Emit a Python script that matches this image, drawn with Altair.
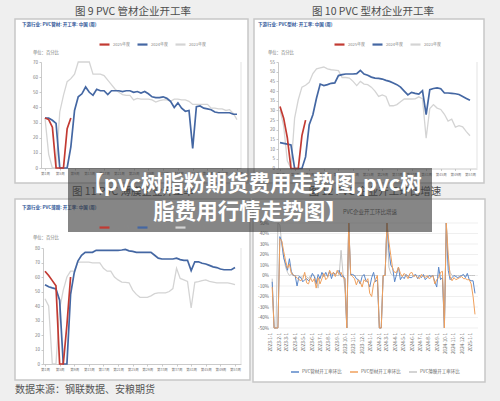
import altair as alt
import pandas as pd

FONT = "Noto Sans CJK SC"

# ---------------- texts ----------------
panel_titles = ["图 9   PVC 管材企业开工率", "图 10   PVC 型材企业开工率",
                "图 11   PVC 薄膜企业开工率", "图 12   PVC 企业开工环比增速"]
sub_titles = ["下游行业: PVC管材: 开工率: 中国 (周)", "下游行业: PVC型材: 开工率: 中国 (周)",
              "下游行业: PVC薄膜: 开工率: 中国 (周)"]
unit_label = "单位：百分比"
br_title = "PVC企业开工环比增速"
overlay_lines = ["【pvc树脂粉期货费用走势图,pvc树", "脂费用行情走势图】"]
source_note = "数据来源：钢联数据、安粮期货"

# ---------------- weekly panels ----------------
series_names = ["2025年度", "2024年度", "2023年度"]
series_colors = ["#c23a32", "#4467a3", "#d4d4d4"]
week_ticks = [1, 5, 9, 13, 17, 21, 25, 29, 33, 37, 41, 45, 49, 53]

pipe_y_ticks = [0, 10, 20, 30, 40, 50, 60, 70]
pipe_2025 = [33, 32, 27, 0, 0, 0, 26, 33]
pipe_2024 = [33, 33, 31.5, 29.5, 0, 0, 0, 14, 38, 47, 49, 53.5, 50, 48, 52, 51, 51, 48.5, 51, 51,
             51, 50.5, 51, 51, 50, 50.5, 49.5, 50.5, 49, 47, 46.5, 46.5, 47, 46, 44, 40, 43, 39.5,
             37.5, 38, 13, 40.5, 41, 39.5, 39, 38.5, 37, 36.5, 36.5, 36.5, 36.5, 35.5, 35.5]
pipe_2023 = [33, 9, 0, 0, 37, 48, 57, 59, 62, 70, 70, 70, 70, 62, 62, 62, 61, 58, 55, 52,
             50, 48.5, 48, 48, 45, 46, 45.5, 45.5, 45.5, 45, 43.5, 44.5, 45, 45, 44, 45.5, 45.5, 45,
             45, 44, 42, 42, 42, 42, 42, 39.5, 39.5, 39, 39, 38, 38.5, 36, 32]

prof_y_ticks = [0, 5, 10, 15, 20, 25, 30, 35, 40, 45, 50, 55]
prof_2025 = [32, 26, 16, 0, 0, 0, 17, 25]
prof_2024 = [13.4, 13, 12.6, 12.2, 0, 0, 0, 6, 22.6, 27.8, 36.4, 43.6, 42.8, 43.3, 44, 44.2, 48,
             48.5, 48.8, 48.8, 48.8, 49, 50.7, 48.8, 48.2, 47.2, 46.7, 46.5, 46.2, 45.5, 45, 44.2,
             43.3, 42, 40, 38, 39.3, 38.8, 38.4, 40.2, 27.8, 40.7, 41.3, 41.6, 41.2, 39, 39, 38.8,
             38.6, 38.2, 37.2, 36.2, 35.2]
prof_2023 = [30.3, 22, 4, 0, 26, 35.5, 42, 43, 44.5, 49, 51.5, 52, 52.4, 51.5, 51, 50.8, 50.5,
             47, 47, 46.7, 45, 42.8, 45, 43.6, 43.3, 42, 40, 37.2, 38, 37.2, 32.4, 32.4, 33, 34.5,
             35.9, 35.9, 35.9, 36, 37, 36, 15.7, 31, 33, 31.2, 30.5, 28, 24.5, 25.5, 21.4, 22.1,
             21.5, 19, 16.9]

film_y_ticks = [0, 10, 20, 30, 40, 50, 60, 70, 80]
film_2025 = [64, 61, 57.5, 54, 0, 0, 27, 60]
film_2024 = [54.7, 53.3, 52.5, 51.8, 44, 0, 0, 48, 63, 71, 75, 77, 77, 77, 78.4, 78.4, 78.4,
             78.4, 78.4, 78.4, 78.4, 78.6, 79, 78, 77.7, 77, 77, 77, 77, 77, 75, 73, 72.4, 72.4,
             72.4, 72.4, 73, 72, 71.5, 71.5, 64.4, 70.5, 70.5, 69.5, 69, 68, 67, 66.5, 65.5, 65,
             65, 65, 66.5]
film_2023 = [45, 40, 0, 0, 38, 51, 60, 64, 64, 70.3, 70.3, 70.3, 70.3, 69.7, 69.7, 69.7, 66, 64,
             64, 60, 58, 56.5, 56.3, 56, 51, 48, 46, 46, 46, 47, 48.5, 49, 49, 49, 50, 52, 66, 59,
             58, 57, 38.6, 56.3, 56.8, 57.5, 58, 57, 56.5, 56, 56, 56, 56, 55.5, 54.7]

# ---------------- MoM growth panel ----------------
br_series = ["PVC管材开工率环比", "PVC型材开工率环比", "PVC薄膜开工率环比"]
br_colors = ["#5a87c9", "#f0a05c", "#c6c6c6"]
br_y_ticks = [-50, -40, -30, -20, -10, 0, 10, 20, 30, 40, 50]
br_month_labels = ["2023-1-1", "2023-2-1", "2023-3-1", "2023-4-1", "2023-5-1", "2023-6-1",
                   "2023-7-1", "2023-8-1", "2023-9-1", "2023-10-1", "2023-11-1", "2023-12-1",
                   "2024-1-1", "2024-2-1", "2024-3-1", "2024-4-1", "2024-5-1", "2024-6-1",
                   "2024-7-1", "2024-8-1", "2024-9-1", "2024-10-1", "2024-11-1", "2024-12-1",
                   "2025-1-1"]
br_first_week = "2023-01-06"
br_pipe = [-6, -50, -50, -50, 37, 32, 17, 11, 5, 16, 4, 0, 0, -10, -1, -2, -6, -4, -3, -5,
           -3, 2, -1, -8, 1, -3, 3, -1, 3, -1, 4, -3, 3, 1, 3, 5, -1, 0, -3, -50,
           50, 1, 1, 0, -3, -4, -8, -1, 1, -5, -6, -11, -2, 3, -6, -4, -50, -50, 0, 0,
           50, 24, 10, 7, -6, 1, 8, -4, -1, -3, 1, -1, -2, -2, 0, 1, -3, 0, -2, 1,
           -4, -2, 0, -1, 0, -6, -11, 8, -4, -2, -50, 50, 5, -4, -2, 0, -1, -2, -1, 0,
           1, -2, 2, -4, -5, -5, -17]
br_prof = [-11, -50, -50, -50, 35, 33, 23, 14, 7, 11, 2, 1, -1, -2, -4, -5, -3, 3, -7, -8,
           -2, -6, -3, -12, -2, -8, -3, 2, -4, -2, 5, 1, 3, -1, 5, 1, 3, -2, -3, -50,
           50, 1, -1, -3, -9, -4, -6, -11, -4, -6, -3, -17, -20, -8, -4, 0, -50, -50, 0, 0,
           50, 32, 19, 6, 3, 3, 8, 2, -1, 2, 0, -3, 2, 3, -1, 0, -2, -3, 1, -1,
           -2, 0, -3, -2, 0, -8, -4, -2, 3, 4, -50, 50, 20, -1, -5, -2, -4, -3, -2, -1,
           -3, -3, -4, -4, -8, -20, -37]
br_film = [-3, -50, -50, 50, 48, 30, 18, 8, 3, 0, 1, 0, 0, 0, 0, -2, 0, 0, -1, -3,
           0, 0, 0, -4, -12, -1, 0, 0, 0, 0, 0, 0, 0, 0, 0, 0, 24, 2, -12, -50,
           50, 0, 0, 0, 0, 0, 0, 0, 0, 0, 0, 0, 0, 0, 0, 0, -50, -50, 0, 0,
           50, 8, 2, 0, 0, 0, 0, 0, 0, 0, 0, 0, 0, 0, 0, 0, 0, 0, 0, 0,
           0, -1, 0, 0, 0, 0, 0, 0, 0, 0, -50, 50, 11, 3, 0, 0, 0, 0, 0, 0,
           0, 0, 0, 0, 0, 0, 0]

H = 401
PAGE = "#efefef"
one = pd.DataFrame({"k": [0]})


def label(txt, x, y, size, color, align="left", weight="normal"):
    return alt.Chart(one).mark_text(
        align=align, baseline="middle", fontSize=size, color=color,
        fontWeight=weight, font=FONT
    ).encode(x=alt.value(x), y=alt.value(y), text=alt.value(txt))


def strip(x1, y1, x2, y2):
    return alt.Chart(one).mark_rect(color=PAGE).encode(
        x=alt.value(x1), x2=alt.value(x2), y=alt.value(y1), y2=alt.value(y2))


def frame(x1, y1, x2, y2):
    return alt.Chart(one).mark_rect(fillOpacity=0, stroke="#c8c8c8", strokeWidth=1.5).encode(
        x=alt.value(x1), x2=alt.value(x2), y=alt.value(y1), y2=alt.value(y2))


def vline(x, y1, y2):
    return alt.Chart(one).mark_rule(color="#dcdcdc", strokeWidth=0.8).encode(
        x=alt.value(x), y=alt.value(y1), y2=alt.value(y2))


axis_style = dict(title=None, grid=False, domainColor="#bdbdbd", domainWidth=0.8,
                  tickColor="#bdbdbd", tickWidth=0.8, tickSize=2, labelFontSize=4.5,
                  labelColor="#7a7a7a", labelFont=FONT, labelPadding=1.5,
                  labelOverlap=False, labelFlush=False)
week_x_style = dict(axis_style)
week_x_style.update(labelFontSize=3.5)


def week_panel(v2025, v2024, v2023, x_dom, x_rng, y_dom, y_rng, y_ticks, leg_x, leg_y):
    xs = alt.Scale(domain=x_dom, range=x_rng, nice=False, zero=False)
    ys = alt.Scale(domain=y_dom, range=y_rng, nice=False, zero=False)
    cs = alt.Scale(domain=series_names, range=series_colors)
    x_axis = alt.Axis(orient="bottom", offset=y_rng[0] - H, values=week_ticks,
                      labelExpr="'第' + datum.value + '周'", **week_x_style)
    y_axis = alt.Axis(orient="left", offset=-x_rng[0], values=y_ticks, **axis_style)
    legend = alt.Legend(orient="none", legendX=leg_x, legendY=leg_y, direction="horizontal",
                        title=None, symbolType="stroke", symbolSize=100, symbolStrokeWidth=2.2,
                        labelFontSize=4, labelColor="#888", labelFont=FONT, columnPadding=3,
                        labelOffset=2, padding=0)
    layers = []
    for name, vals, sw in [(series_names[2], v2023, 1.3), (series_names[1], v2024, 1.7),
                           (series_names[0], v2025, 1.7)]:
        df = pd.DataFrame({"week": list(range(1, len(vals) + 1)), "rate": vals, "series": name})
        layers.append(alt.Chart(df).mark_line(strokeWidth=sw).encode(
            x=alt.X("week:Q", scale=xs, axis=x_axis),
            y=alt.Y("rate:Q", scale=ys, axis=y_axis),
            color=alt.Color("series:N", scale=cs, legend=legend)))
    return alt.layer(*layers)


tl = week_panel(pipe_2025, pipe_2024, pipe_2023, [-0.083, 54.083], [41, 241], [0, 70], [168, 62],
                pipe_y_ticks, 98, 38)
tr = week_panel(prof_2025, prof_2024, prof_2023, [0.453, 54.92], [278, 477], [0, 55], [168.5, 62],
                prof_y_ticks, 333, 38)
bl = week_panel(film_2025, film_2024, film_2023, [0.453, 54.64], [43, 241], [0, 80], [364, 248],
                film_y_ticks, 98, 221)

# ---- MoM panel ----
br_dates = pd.date_range(br_first_week, periods=len(br_pipe), freq="7D").strftime("%Y-%m-%dT00:00:00")


def to_dt(s):
    y, m, d = (int(p) for p in s.split("-"))
    return alt.DateTime(year=y, month=m, date=d)


bx = alt.Scale(domain=[alt.DateTime(year=2022, month=12, date=29),
                       alt.DateTime(year=2025, month=1, date=28)], range=[270, 478], nice=False)
by = alt.Scale(domain=[-50, 50], range=[328, 223], nice=False, zero=False)
bc = alt.Scale(domain=br_series, range=br_colors)
br_style = dict(axis_style)
br_style.update(domain=False, ticks=False, labelFontSize=4.6, labelColor="#666")
bx_axis = alt.Axis(orient="bottom", offset=328 + 3 - H, values=[to_dt(s) for s in br_month_labels],
                   labelExpr="timeFormat(datum.value, '%Y-%-m-%-d')", labelAngle=270, **br_style)
by_axis = alt.Axis(orient="left", offset=-270, values=br_y_ticks,
                   labelExpr="datum.value + '%'", **br_style)
br_legend = alt.Legend(orient="none", legendX=290, legendY=367, direction="horizontal", title=None,
                       symbolType="stroke", symbolSize=64, symbolStrokeWidth=1.5,
                       labelFontSize=4.5, labelColor="#666", labelFont=FONT, columnPadding=5,
                       labelOffset=2, padding=0)

grid = alt.Chart(pd.DataFrame({"v": br_y_ticks})).mark_rule(color="#e4e4e4", strokeWidth=0.6).encode(
    y=alt.Y("v:Q", scale=by, axis=by_axis), x=alt.value(270), x2=alt.value(478))
br_layers = [grid]
for name, vals in [(br_series[2], br_film), (br_series[0], br_pipe), (br_series[1], br_prof)]:
    df = pd.DataFrame({"date": br_dates, "rate": vals, "series": name})
    br_layers.append(alt.Chart(df).mark_line(strokeWidth=1).encode(
        x=alt.X("date:T", scale=bx, axis=bx_axis),
        y=alt.Y("rate:Q", scale=by, axis=by_axis),
        color=alt.Color("series:N", scale=bc, legend=br_legend)))
br = alt.layer(*br_layers)

# ---- page: white panels are the background, grey page strips around them ----
deco = [
    strip(0, 0, 500, 19), strip(0, 183, 500, 199), strip(0, 380, 252, 401), strip(252, 382, 500, 401),
    strip(0, 0, 15, 401), strip(484, 0, 500, 199), strip(485, 199, 500, 401),
    strip(248, 19, 254, 183), strip(250, 199, 253, 382),
    frame(15, 19, 248, 183), frame(254, 19, 484, 183), frame(15, 199, 250, 380), frame(253, 199, 485, 382),
    label(panel_titles[0], 133, 12, 10.5, "#4d4d4d", "center"),
    label(panel_titles[1], 373, 12, 10.5, "#4d4d4d", "center"),
    label(panel_titles[2], 133, 192, 10.5, "#4d4d4d", "center"),
    label(panel_titles[3], 375, 192, 10.5, "#4d4d4d", "center"),
    label(sub_titles[0], 22, 25, 4.5, "#2f5597", weight="bold"),
    label(sub_titles[1], 258, 25, 4.5, "#2f5597", weight="bold"),
    label(sub_titles[2], 22, 208, 4.5, "#2f5597", weight="bold"),
    label(unit_label, 33, 53, 4.3, "#777777"),
    label(unit_label, 268, 53, 4.3, "#777777"),
    label(unit_label, 33, 238, 4.3, "#777777"),
    label(br_title, 370, 212, 5.5, "#555555", "center"),
    vline(241, 62, 168), vline(477, 62, 168), vline(241, 248, 364),
]

overlay = [
    alt.Chart(one).mark_rect(color="#3c3c3c", opacity=0.62).encode(
        x=alt.value(68), x2=alt.value(432), y=alt.value(168), y2=alt.value(232)),
    label(overlay_lines[0], 252, 185, 21.5, "white", "center", "bold"),
    label(overlay_lines[1], 250, 213, 21.5, "white", "center", "bold"),
    label(source_note, 15, 390, 10, "#555555"),
]

chart = alt.layer(*deco, tl, tr, bl, br, *overlay).resolve_scale(
    x="independent", y="independent", color="independent"
).resolve_axis(x="independent", y="independent").resolve_legend(color="independent").properties(
    width=500, height=401, background="white", padding=0,
    autosize=alt.AutoSizeParams(type="none")
).configure_view(stroke=None)

chart.save("out.html", embed_options={"renderer": "svg", "actions": False})
